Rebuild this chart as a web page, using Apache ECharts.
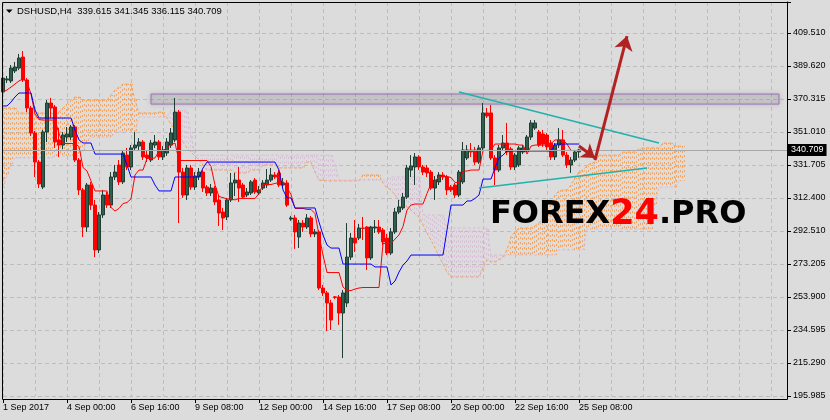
<!DOCTYPE html>
<html><head><meta charset="utf-8">
<script src="https://cdn.jsdelivr.net/npm/echarts@6/dist/echarts.min.js"></script>
<style>html,body{margin:0;padding:0;background:#dcdcdc;}#c{width:830px;height:420px;}</style>
</head><body><div id="c"></div>
<script>
// ---- DATA ----
const symbolName = 'DSHUSD,H4';
const open = [374.8,381.9,381.3,387.2,388.9,395.4,381.9,365.4,350.7,333.6,
318.9,351.3,368.3,366.0,346.6,343.6,348.3,348.3,354.2,334.8,
317.2,295.4,320.1,308.3,281.9,302.5,314.2,308.3,324.8,331.9,
321.9,337.7,330.7,341.9,343.0,345.4,337.7,334.8,343.6,345.4,
336.6,338.9,343.6,346.6,363.0,327.7,314.2,330.1,318.9,324.8,
327.7,318.9,315.4,318.3,311.3,304.2,301.3,311.3,321.3,323.0,
320.1,314.2,315.4,323.0,315.4,318.3,320.1,323.0,326.0,327.2,
320.1,321.3,300.1,300.7,289.5,297.7,295.4,300.7,291.3,292.5,
259.5,256.6,250.7,254.3,254.2,244.8,250.7,277.7,288.9,288.9,
294.8,295.4,277.2,294.8,295.4,293.6,288.9,280.1,292.5,304.2,
306.6,313.0,328.9,330.7,336.6,330.7,330.1,327.7,318.3,321.9,
326.0,324.8,318.9,320.1,314.2,321.9,336.0,340.7,340.7,333.6,
341.9,362.5,362.5,336.0,328.9,341.9,344.8,341.3,330.7,331.9,
339.5,340.7,348.3,353.6,351.3,350.1,349.5,344.8,336.6,343.6,
346.6,337.7,331.9,334.8,339.615];
const close = [383.0,382.5,388.9,389.5,394.8,381.9,365.4,350.7,333.6,320.7,
351.3,368.3,365.4,345.4,343.6,349.5,350.1,354.2,334.8,317.2,
295.4,320.1,308.3,281.9,302.5,314.2,308.3,324.8,327.7,321.9,
338.9,330.7,341.9,343.6,345.4,336.6,336.0,344.8,345.4,336.6,
340.7,345.4,350.7,363.0,327.7,314.2,330.1,318.9,325.4,327.7,
318.3,315.4,318.3,310.1,303.6,300.7,311.3,321.3,323.0,318.3,
313.0,316.0,321.9,316.0,317.2,321.3,323.0,326.0,324.8,320.1,
321.3,308.3,300.7,292.5,297.7,295.4,300.7,291.3,292.5,259.5,
256.6,250.7,240.7,254.0,244.8,256.6,277.7,288.9,286.0,294.8,
294.6,277.2,295.4,295.4,292.5,286.6,280.1,292.5,304.2,307.2,
313.0,330.1,331.3,336.6,330.7,327.7,327.2,318.3,323.0,326.0,
324.8,317.2,317.2,314.2,327.7,340.7,340.7,339.5,333.6,341.9,
362.5,360.7,336.0,328.9,341.9,344.8,339.5,330.7,337.7,341.9,
341.9,348.3,356.6,356.6,343.6,344.2,342.5,336.6,343.6,346.6,
337.7,331.9,334.8,339.5,340.709];
const high = [386.0,384.2,390.7,392.5,397.2,398.9,383.0,366.6,351.9,334.8,
352.5,370.1,371.3,367.2,353.6,351.3,354.2,355.4,355.4,336.0,
318.3,321.3,321.9,311.3,304.2,317.2,316.0,327.7,331.9,334.8,
340.7,341.9,343.6,351.3,347.7,346.6,340.7,346.6,349.5,346.6,
343.0,347.7,353.6,371.3,364.2,330.1,331.9,331.9,327.7,330.1,
328.9,320.1,320.7,319.5,314.2,306.6,312.5,327.2,327.2,330.7,
321.3,318.3,323.0,324.2,319.5,323.0,329.5,330.1,327.7,328.9,
324.2,323.0,301.9,302.5,299.5,299.5,303.0,301.9,294.2,293.6,
261.3,257.8,252.5,254.8,255.4,258.3,297.7,291.9,299.5,297.2,
301.3,296.0,296.0,299.5,299.5,294.8,291.3,294.8,306.6,311.3,
315.4,331.9,337.7,338.9,337.7,331.9,331.9,328.9,325.4,327.7,
327.7,326.0,320.1,321.3,328.9,345.4,343.6,344.8,342.5,343.6,
368.3,365.4,367.2,337.7,343.6,349.5,356.6,342.5,338.9,343.0,
343.6,349.5,358.3,358.3,352.5,352.5,350.7,346.6,344.8,353.6,
352.5,339.5,336.6,340.7,341.345];
const low = [373.0,380.1,380.1,386.0,387.7,380.7,363.0,348.9,324.8,318.3,
317.7,345.4,359.5,341.9,336.6,341.3,345.4,346.6,333.6,314.2,
289.5,292.5,305.4,277.7,280.1,300.7,306.6,306.6,323.0,320.1,
320.7,328.9,328.9,340.7,340.7,334.8,333.6,333.6,341.9,334.8,
334.8,337.2,341.9,345.4,297.7,312.5,311.3,317.2,317.2,323.0,
316.0,313.6,313.6,308.3,296.0,293.6,299.5,310.1,313.6,310.1,
311.9,313.0,314.2,314.8,314.2,317.2,318.3,321.9,323.6,318.9,
318.9,307.2,299.0,282.5,283.0,292.5,294.2,289.5,289.5,258.3,
254.8,234.2,234.8,253.0,237.8,218.3,248.3,276.0,280.7,287.7,
287.7,270.1,276.0,291.9,291.3,284.8,278.9,278.9,291.3,303.0,
305.4,311.9,324.8,320.1,328.9,326.0,324.8,317.2,311.3,320.1,
323.0,314.2,316.0,312.5,313.0,320.7,334.8,336.6,331.9,332.5,
340.7,359.5,334.8,320.1,327.7,340.7,337.7,328.9,328.9,330.7,
338.3,339.5,346.6,352.5,342.5,342.5,340.7,334.8,334.8,341.9,
336.6,330.1,327.2,333.6,336.115];
const tenkan = [374.8,376.0,377.7,379.5,381.3,382.5,380.7,373.6,361.9,358.6,
358.3,358.3,358.3,358.3,350.4,344.5,344.5,344.5,344.5,342.7,
330.4,328.3,322.5,316.6,316.6,316.6,316.6,306.9,304.8,306.3,
309.2,309.8,311.9,326.0,328.9,328.9,335.7,335.7,336.0,340.1,
340.1,342.5,343.6,344.8,334.5,334.5,334.5,334.5,334.5,334.5,
334.5,334.5,331.0,320.1,313.3,312.7,311.9,311.9,311.3,312.2,
312.2,312.2,312.2,312.2,315.1,320.4,320.4,320.4,321.0,321.6,
322.2,318.6,314.5,306.3,306.3,306.3,305.7,305.7,303.3,290.7,
278.9,268.6,268.6,268.6,268.6,260.1,258.0,258.0,258.9,259.5,
259.8,259.8,259.8,259.8,259.8,285.7,285.7,285.7,288.3,290.7,
295.7,305.4,308.3,308.9,308.9,308.9,315.1,321.0,322.2,325.1,
325.1,325.1,324.5,321.6,321.6,328.3,328.3,328.9,328.9,328.9,
340.4,340.4,340.7,344.2,344.2,344.2,344.2,344.2,344.2,343.6,
343.6,338.3,343.0,343.6,343.6,343.6,343.6,344.5,346.6,346.6,
346.6,344.2,340.4,340.4,340.4];
const kijun = [366.6,366.6,368.9,371.9,374.2,374.2,374.2,374.2,364.2,359.5,
359.5,359.5,359.5,359.5,359.5,359.5,359.5,359.5,352.5,346.6,
344.8,344.8,344.8,338.3,338.3,338.3,338.3,338.3,338.3,338.3,
338.3,331.9,324.8,324.8,324.8,324.8,324.8,324.8,320.1,316.6,
316.6,316.6,316.6,324.8,324.8,324.8,324.8,324.8,324.8,324.8,
330.1,333.6,333.6,333.6,333.6,333.6,333.6,333.6,333.6,333.6,
333.6,333.6,333.6,333.6,333.6,333.6,333.6,333.6,333.6,328.9,
317.2,312.5,312.5,306.6,306.6,306.6,306.6,306.6,306.6,298.3,
290.7,284.8,283.0,283.0,283.0,273.6,273.6,273.6,273.6,273.6,
273.6,273.6,273.6,271.9,271.9,271.9,271.9,261.3,263.6,268.9,
273.0,275.4,278.9,278.9,278.9,278.9,278.9,278.9,278.9,278.9,
278.9,293.6,308.3,308.3,308.3,308.3,310.7,310.7,312.2,314.2,
323.6,323.6,323.6,330.1,336.0,337.7,340.1,340.1,340.1,340.1,
340.1,340.1,340.1,340.1,340.1,340.1,340.1,340.1,344.2,344.2,
344.2,344.2,344.2,344.2,344.2];
const spanA = [365.4,365.4,365.4,365.4,362.5,362.5,362.5,362.5,362.5,362.5,
362.5,362.5,362.5,361.3,363.0,365.4,367.7,370.1,371.9,371.9,
370.1,370.1,370.1,370.1,370.1,370.1,370.1,373.0,376.0,377.7,
379.5,379.5,379.5,370.1,362.5,362.5,362.5,362.5,362.5,363.0,
363.0,359.5,356.0,352.5,348.9,345.4,341.9,339.5,337.2,334.8,
331.9,328.9,328.9,328.9,328.9,328.9,328.9,328.9,327.2,327.2,
327.2,327.2,328.9,328.9,328.9,331.9,331.9,331.9,331.9,330.1,
330.1,330.1,330.1,330.1,330.1,330.1,333.6,333.6,327.7,323.0,
322.5,322.5,322.5,322.5,322.5,322.5,322.5,322.5,322.5,322.5,
326.0,326.0,326.0,326.0,326.0,321.3,318.3,317.2,314.2,311.3,
308.9,307.2,305.4,303.0,301.3,296.6,291.9,287.7,283.0,278.3,
273.6,268.9,266.0,266.0,266.0,266.0,266.0,266.0,266.0,266.0,
271.3,276.0,274.8,274.8,276.0,277.7,281.9,289.5,292.5,294.8,
294.8,294.8,294.8,296.0,297.7,300.7,305.4,308.3,314.2,316.6,
317.2,317.2,320.1,324.2,327.7,328.9,331.3,333.0,333.6,337.7,
337.7,337.7,337.7,337.7,337.7,339.5,339.5,339.5,339.5,341.3,
341.9,341.9,341.9,341.9,341.9,344.8,344.8,344.8,343.0,343.0,
343.0];
const spanB = [318.3,326.0,331.9,336.0,336.0,336.0,336.0,336.0,336.0,336.0,
336.0,336.0,336.0,337.2,337.2,337.2,337.2,337.2,337.2,337.2,
340.7,345.4,348.3,348.3,348.3,348.3,348.3,348.3,351.3,351.3,
351.3,351.3,351.3,351.3,360.1,360.1,360.1,360.1,360.1,360.1,
360.1,360.1,364.2,364.2,364.2,364.2,364.2,349.5,337.7,337.7,
337.7,337.7,337.7,337.7,337.7,337.7,337.7,337.7,337.7,337.7,
337.7,337.7,337.7,337.7,337.7,337.7,337.7,337.7,337.7,337.7,
337.7,337.7,337.7,337.7,337.7,337.7,337.7,337.7,337.7,337.7,
337.7,337.7,337.7,331.9,323.0,323.0,323.0,323.0,323.0,323.0,
323.0,323.0,323.0,323.0,323.0,323.0,323.0,324.8,324.8,324.8,
324.8,324.8,324.8,324.8,324.8,302.5,302.5,302.5,302.5,302.5,
302.5,294.8,294.8,294.8,294.8,294.8,294.8,294.8,294.8,294.8,
294.8,294.8,278.9,278.9,278.9,278.9,278.9,278.9,278.9,278.9,
278.9,278.9,278.9,278.9,278.9,278.9,278.9,278.9,278.9,281.9,
281.9,281.9,281.9,281.9,281.9,281.9,294.2,294.2,294.2,294.2,
294.2,294.2,294.2,294.2,294.2,294.2,294.2,294.2,294.2,294.2,
294.2,294.2,294.2,308.3,318.9,318.9,318.9,318.9,318.9,322.5,
322.5];
const xTickLabels = ['1 Sep 2017','4 Sep 00:00','6 Sep 16:00','9 Sep 08:00','12 Sep 00:00','14 Sep 16:00','17 Sep 08:00','20 Sep 00:00','22 Sep 16:00','25 Sep 08:00'];
const yTickLabels = ['195.985','215.290','234.595','253.900','273.205','292.510','312.400','331.705','351.010','370.315','389.620','409.510'];
// drawn objects (price / bar-index coordinates)
const zoneBars = [37, 194];
const zonePrices = [373.6, 367.7];
const upperTrend = [[114, 374.8], [164, 344.8]];
const lowerTrend = [[119, 318.3], [161, 330.1]];
const bigArrow = [[148, 334.8], [156, 407.7]];
const smallArrow = [[144, 343.0], [148, 336.0]];
const totalSlots = 197;

// ---- CHART ----
const Y_MIN = 195.985, Y_INT = (409.51 - 195.985) / 11, Y_MAX = 427.745;
const n = close.length - 1;
const cats = Array.from({length: totalSlots}, (_, i) => String(i));
const FONT = 'Liberation Sans, Arial, sans-serif';
const LABEL_STEP = 16;

function renderCloud(params, api) {
  const i = api.value(0), a = api.value(1), b = api.value(2);
  const pa = api.coord([i, a]), pb = api.coord([i, b]);
  const col = a >= b ? '#f4a460' : '#d8bfd8';
  const x = Math.round(pa[0]);
  return {type: 'group', children: [-0.5, 1.5].map((dx, k) => ({
    type: 'line', silent: true,
    shape: {x1: x + dx, y1: pa[1], x2: x + dx, y2: pb[1]},
    style: {stroke: col, lineWidth: 1, lineDash: [2, 3], lineDashOffset: k}
  }))};
}

const chart = echarts.init(document.getElementById('c'), null, {renderer: 'canvas'});
chart.setOption({
  animation: false,
  backgroundColor: '#dcdcdc',
  grid: {left: 3, right: 43, top: 2, bottom: 24, show: false},
  xAxis: {
    type: 'category', data: cats, boundaryGap: false, offset: 3,
    axisLine: {lineStyle: {color: '#000', width: 1}},
    axisTick: {show: true, length: 4, lineStyle: {color: '#000'},
      interval: i => i % LABEL_STEP === 0 && i / LABEL_STEP < xTickLabels.length},
    axisLabel: {interval: LABEL_STEP - 1, align: 'left', margin: 4, fontSize: 9, color: '#000', fontFamily: FONT,
      formatter: (v, i) => xTickLabels[i / LABEL_STEP] || ''},
    splitLine: {show: true, interval: 7, lineStyle: {color: '#bdbdbd', type: [4, 3], width: 1}}
  },
  yAxis: {
    type: 'value', position: 'right', min: Y_MIN, max: Y_MAX, interval: Y_INT,
    axisLine: {show: true, lineStyle: {color: '#000', width: 1}},
    axisTick: {show: true, length: 4, lineStyle: {color: '#000'}},
    axisLabel: {margin: 6, fontSize: 9, color: '#000', fontFamily: FONT,
      formatter: v => { const k = Math.round((v - Y_MIN) / Y_INT); return (Math.abs(v - (Y_MIN + k * Y_INT)) < 1e-3 && yTickLabels[k]) || ''; }},
    splitLine: {show: true, lineStyle: {color: '#bdbdbd', type: [4, 3], width: 1}}
  },
  series: [
    {type: 'custom', name: 'cloud', renderItem: renderCloud, z: 1,
      encode: {x: 0, y: [1, 2]},
      data: spanA.map((a, i) => [i, a, spanB[i]])},
    {type: 'line', name: 'spanA', data: spanA, symbol: 'none', z: 2,
      lineStyle: {color: '#f4a460', width: 1, type: [3, 2]}},
    {type: 'line', name: 'spanB', data: spanB, symbol: 'none', z: 2,
      lineStyle: {color: '#d8bfd8', width: 1, type: [3, 2]}},
    {type: 'line', name: 'bid', data: [], z: 2,
      markLine: {silent: true, symbol: ['none', 'none'], animation: false,
        lineStyle: {color: '#a8a8a8', type: 'solid', width: 1},
        label: {show: true, position: 'end', distance: 1, formatter: close[n].toFixed(3),
          backgroundColor: '#000', color: '#fff', padding: [2, 3, 1, 3], fontSize: 9, fontFamily: FONT},
        data: [{yAxis: close[n]}]}},
    {type: 'candlestick', name: 'DSHUSD', z: 3, barWidth: 3,
      data: open.map((o, i) => [o, close[i], low[i], high[i]]),
      itemStyle: {color: '#2f5f4f', color0: '#ff0000', borderColor: '#1f3d33', borderColor0: '#ff0000', borderWidth: 1}},
    {type: 'line', name: 'tenkan', data: tenkan, symbol: 'none', z: 4,
      lineStyle: {color: '#ff0000', width: 1}},
    {type: 'line', name: 'kijun', data: kijun, symbol: 'none', z: 4,
      lineStyle: {color: '#0000ff', width: 1}},
    {type: 'line', name: 'objects', data: [], z: 6,
      markArea: {silent: true,
        itemStyle: {color: 'rgba(150,150,165,0.16)', borderColor: '#9b70b5', borderWidth: 1,
          shadowBlur: 5, shadowColor: 'rgba(0,0,0,0.3)'},
        data: [[{coord: [zoneBars[0], zonePrices[0]]}, {coord: [zoneBars[1], zonePrices[1]]}]]},
      markLine: {silent: true, animation: false, label: {show: false},
        data: [
          [{coord: upperTrend[0], symbol: 'none', lineStyle: {color: '#20b2aa', width: 1.5, type: 'solid'}},
           {coord: upperTrend[1], symbol: 'none'}],
          [{coord: lowerTrend[0], symbol: 'none', lineStyle: {color: '#20b2aa', width: 1.5, type: 'solid'}},
           {coord: lowerTrend[1], symbol: 'none'}],
          [{coord: bigArrow[0], symbol: 'none', lineStyle: {color: '#b22222', width: 3, type: 'solid'}},
           {coord: bigArrow[1], symbol: 'arrow', symbolSize: 14}],
          [{coord: smallArrow[0], symbol: 'none', lineStyle: {color: '#b22222', width: 3, type: 'solid'}},
           {coord: smallArrow[1], symbol: 'arrow', symbolSize: 13}]
        ]}}
  ],
  graphic: [
    {type: 'polyline', z: 100, silent: true, shape: {points: [[2.5, 399.5], [2.5, 2.5], [787.5, 2.5]]},
      style: {stroke: '#000', lineWidth: 1, fill: null}},
    {type: 'line', z: 100, silent: true, shape: {x1: 787.5, y1: 395, x2: 787.5, y2: 399.5},
      style: {stroke: '#000', lineWidth: 1}},
    {type: 'polygon', z: 100, silent: true, shape: {points: [[6, 9.5], [12.5, 9.5], [9.25, 13]]},
      style: {fill: '#000'}},
    {type: 'text', z: 100, silent: true, x: 17, y: 11,
      style: {text: symbolName + '  ' + [open[n], high[n], low[n], close[n]].map(v => v.toFixed(3)).join(' '),
        font: '9.5px "Liberation Sans", Arial, sans-serif', fill: '#000', verticalAlign: 'middle'}},
    {type: 'text', z: 50, silent: true, x: 490, y: 215,
      style: {text: '{a|FOREX}{b|24}{a|.PRO}', verticalAlign: 'middle',
        rich: {a: {fontSize: 32, fontWeight: 'bold', fontFamily: 'DejaVu Sans', fill: '#000'},
               b: {fontSize: 35, fontWeight: 'bold', fontFamily: 'DejaVu Sans', fill: '#ff0000'}}}}
  ]
});
</script></body></html>
